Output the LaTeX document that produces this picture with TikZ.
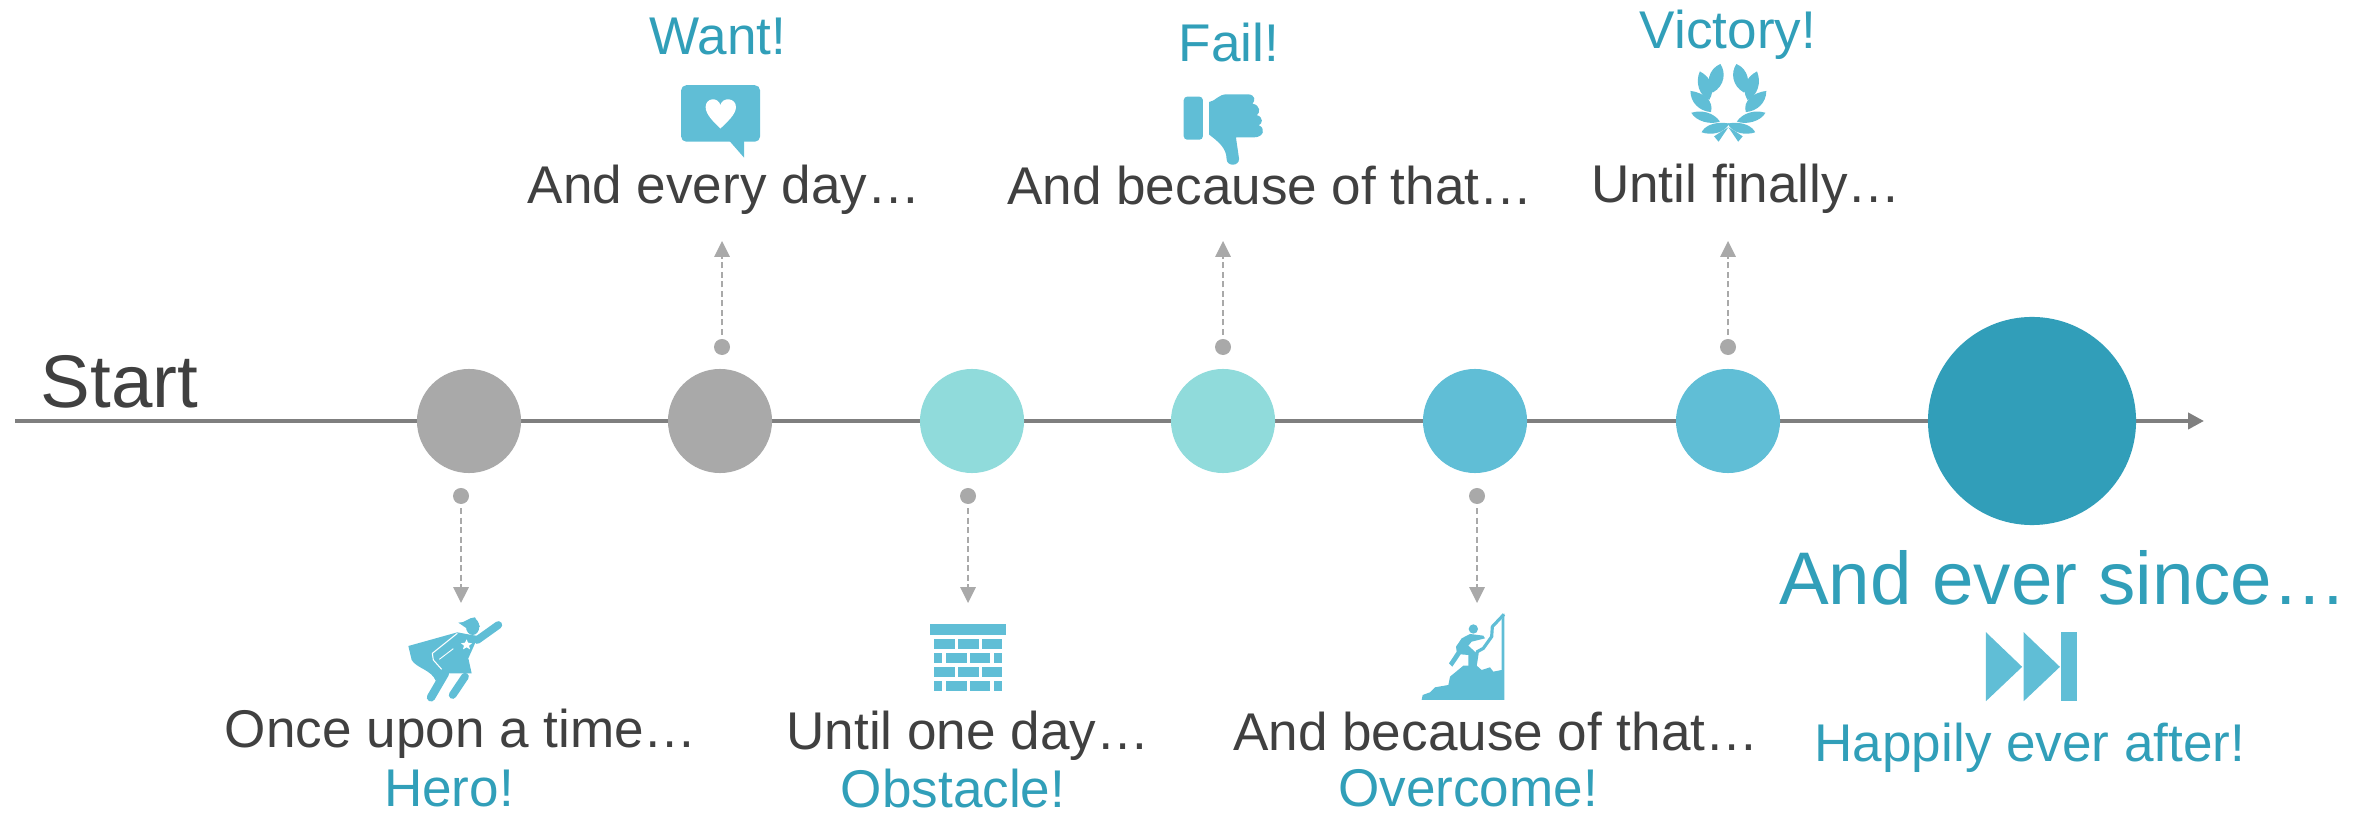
\documentclass[tikz,border=0pt]{standalone}
\usepackage{fontspec}
\setmainfont{Liberation Sans}
\usetikzlibrary{arrows.meta}
\definecolor{txtgray}{HTML}{404040}
\definecolor{txtteal}{HTML}{319FB9}
\definecolor{icon}{HTML}{60BED6}
\definecolor{stopgray}{HTML}{A9A9A9}
\definecolor{stopmint}{HTML}{90DBDB}
\definecolor{stopblue}{HTML}{60BED6}
\definecolor{stopdeep}{HTML}{319EB9}
\definecolor{axis}{HTML}{7F7F7F}
\tikzset{
  stop/.style={circle,inner sep=0pt,minimum size=1.04cm},
  dot/.style={circle,inner sep=0pt,minimum size=0.16cm,fill=stopgray},
  say/.style={anchor=base,inner sep=0pt,text=txtgray,font=\fontsize{15.1}{18}\selectfont},
  goal/.style={say,text=txtteal},
  big/.style={anchor=base,inner sep=0pt,font=\fontsize{21.2}{25}\selectfont},
  hint/.style={dash pattern=on 1.7pt off 1pt,draw=stopgray,line width=0.4pt,shorten <=1pt,-{Triangle[length=4.5pt,width=4.4pt,fill=stopgray]}},
  zoomA/.style={shift={(380,580)},xscale=0.4464,yscale=0.3367},
  zoomB/.style={shift={(640,0)},xscale=0.4464,yscale=0.3367},
  zoomC/.style={shift={(1340,0)},xscale=0.4464,yscale=0.3367},
  zoomD/.style={shift={(1340,580)},xscale=0.5102,yscale=0.3367},
  zoomE/.style={shift={(400,610)},scale=0.3333},
  zoomF/.style={shift={(1420,605)},scale=0.3333}
}
\begin{document}
\begin{tikzpicture}[x=0.01cm,y=-0.01cm]
\useasboundingbox (0,0) rectangle (2358,813);
% time line
\coordinate (begin) at (15,421);
\coordinate (end) at (2204,421);
\draw [draw=axis,line width=1.1pt,-{Triangle[length=4.5pt,width=4.5pt,fill=axis]}] (begin) -- (end);
\node[big,text=txtgray,anchor=base west] (start) at (40,408) {Start};
\foreach \i/\x/\c in {0/469/stopgray,1/720/stopgray,2/972/stopmint,3/1223/stopmint,4/1475/stopblue,5/1728/stopblue}
  \node[stop,fill=\c] (c\i) at (\x,421) {};
\node[stop,fill=stopdeep,minimum size=2.08cm] (c6) at (2032,421) {};
% dots and dashed arrows
\foreach \i/\x in {0/461,2/968,4/1477} {
  \node[dot] (d\i) at (\x,496) {};
  \coordinate (e\i) at (\x,603);
  \draw [hint] (d\i) -- (e\i);
}
\foreach \i/\x in {1/722,3/1223,5/1728} {
  \node[dot] (d\i) at (\x,347) {};
  \coordinate (e\i) at (\x,241);
  \draw [hint] (d\i) -- (e\i);
}
% texts
\node[say] (t0) at (461,747) {Once upon a time…};
\node[goal] (g0) at (449,806) {Hero!};
\node[say] (t1) at (724,204) {And every day…};
\node[goal] (g1) at (718,55) {Want!};
\node[say] (t2) at (968,749) {Until one day…};
\node[goal] (g2) at (953,807) {Obstacle!};
\node[say] (t3) at (1270,205) {And because of that…};
\node[goal] (g3) at (1229,62) {Fail!};
\node[say] (t4) at (1496,750) {And because of that…};
\node[goal] (g4) at (1468,806) {Overcome!};
\node[say] (t5) at (1746,203) {Until finally…};
\node[goal] (g5) at (1728,49) {Victory!};
\node[big,text=txtteal] (t6) at (2063,604) {And ever since…};
\node[goal] (g6) at (2030,761) {Happily ever after!};
% hero
\begin{scope}[zoomE,fill=icon]
\fill (25,108) -- (172,67) -- (215,75) -- (235,78) -- (205,145) -- (215,190) -- (130,190) -- (107,212) .. controls (95,180) and (50,175) .. (35,150) -- cycle;
\draw [white,line width=0.3pt] (172,70) -- (97,130) -- (100,150) -- (125,178);
\draw [white,line width=0.25pt] (160,116) -- (118,148);
\fill (218,50) ellipse [x radius=20,y radius=25];
\fill (175,38) .. controls (195,40) and (205,22) .. (225,22) -- (240,50) -- (200,55) -- cycle;
\draw [icon,line width=2.2pt,line cap=round] (232,90) -- (295,45);
\draw [icon,line width=2.4pt,line cap=round] (135,190) -- (93,262);
\draw [icon,line width=2.2pt,line cap=round] (195,200) -- (158,255);
\fill [white] (200,88) -- (204,98) -- (216,100) -- (207,107) -- (210,118) -- (200,112) -- (189,118) -- (192,107) -- (183,100) -- (195,98) -- cycle;
\end{scope}
% wall
\begin{scope}[zoomA,fill=icon]
\fill (1232,132) rectangle (1402,163);
\foreach \y in {175,258} {
  \fill (1241,\y) rectangle (1287,\y+30);
  \fill (1295,\y) rectangle (1341,\y+30);
  \fill (1348,\y) rectangle (1394,\y+30);
}
\foreach \y in {216,300} {
  \fill (1241,\y) rectangle (1259,\y+30);
  \fill (1268,\y) rectangle (1314,\y+30);
  \fill (1322,\y) rectangle (1367,\y+30);
  \fill (1375,\y) rectangle (1394,\y+30);
}
\end{scope}
% bubble and thumb
\begin{scope}[zoomB,fill=icon]
\fill [rounded corners=1.5pt] (92,253) rectangle (269,421);
\fill (198,415) -- (233,468) -- (233,415) -- cycle;
\fill [white] (180,382) .. controls (165,362) and (147,340) .. (147,318) .. controls (147,290) and (175,287) .. (180,312) .. controls (185,287) and (215,290) .. (215,318) .. controls (215,340) and (195,362) .. (180,382) -- cycle;
\fill [rounded corners=1pt] (1218,287) rectangle (1261,415);
\fill (1275,303) .. controls (1290,300) and (1295,280) .. (1315,280) -- (1362,280) .. controls (1380,282) and (1378,300) .. (1372,308) .. controls (1390,312) and (1390,335) .. (1382,342) .. controls (1397,348) and (1395,368) .. (1386,372) .. controls (1402,380) and (1398,408) .. (1375,408) -- (1335,408) -- (1342,472) .. controls (1342,495) and (1314,495) .. (1314,472) .. controls (1314,440) and (1295,420) .. (1275,400) -- cycle;
\end{scope}
% wreath
\begin{scope}[zoomC,fill=icon]
\foreach \s in {0,1} {
  \begin{scope}[shift={(\s*1740,0)},xscale=1-2*\s]
  \fill (852,190) .. controls (825,205) and (818,250) .. (835,275) .. controls (862,255) and (865,215) .. (852,190) -- cycle;
  \fill (806,212) .. controls (795,245) and (805,285) .. (827,297) .. controls (842,265) and (832,230) .. (806,212) -- cycle;
  \fill (785,270) .. controls (785,305) and (805,330) .. (831,333) .. controls (838,300) and (815,275) .. (785,270) -- cycle;
  \fill (787,335) .. controls (797,360) and (830,372) .. (851,361) .. controls (838,335) and (810,325) .. (787,335) -- cycle;
  \fill (872,367) .. controls (835,358) and (815,378) .. (810,393) .. controls (830,402) and (860,398) .. (872,367) -- cycle;
  \fill (855,390) -- (838,405) -- (848,421) -- (870,378) -- cycle;
  \end{scope}
}
\end{scope}
% climber
\begin{scope}[zoomF,fill=icon]
\fill (5,285) -- (8,270) -- (30,262) -- (45,247) -- (85,240) -- (90,215) -- (130,182) -- (170,182) -- (185,195) -- (210,187) -- (220,200) -- (245,195) -- (245,45) -- (253,25) -- (253,285) -- cycle;
\draw [icon,line width=0.9pt] (252,28) -- (217,65) -- (215,95) -- (190,130) -- (172,140) -- (165,185);
\fill (160,72) circle [radius=14];
\fill (125,100) -- (150,87) -- (190,92) -- (195,100) -- (155,110) -- (145,122) -- (170,145) -- (165,185) -- (145,185) -- (145,150) -- (122,148) -- (97,185) -- (87,175) -- (110,140) -- (108,125) -- cycle;
\end{scope}
% skip icon
\begin{scope}[zoomD,fill=icon]
\fill (1266,155) -- (1337,258) -- (1266,360) -- cycle;
\fill (1340,155) -- (1411,258) -- (1340,360) -- cycle;
\fill (1414,155) rectangle (1445,360);
\end{scope}
\end{tikzpicture}
\end{document}
